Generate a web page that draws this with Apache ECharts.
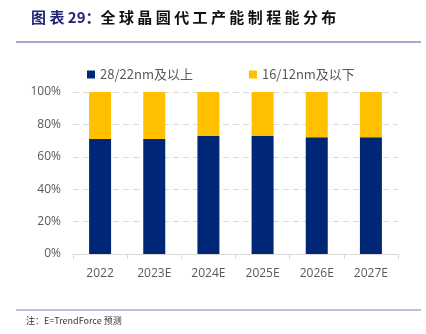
<!DOCTYPE html>
<html><head><meta charset="utf-8">
<script src="https://cdn.jsdelivr.net/npm/echarts@6/dist/echarts.min.js"></script>
<style>html,body{margin:0;padding:0;background:#fff;}#c{width:426px;height:334px;}</style>
</head><body><div id="c"></div>
<script>
const categories = ['2022','2023E','2024E','2025E','2026E','2027E'];
const mature = [71, 71, 73, 73, 72, 72];
const advanced = [29, 29, 27, 27, 28, 28];
const seriesNames = ['28/22nm及以上','16/12nm及以下'];
const yTicks = [0,20,40,60,80,100];

const chart = echarts.init(document.getElementById('c'), null, {renderer:'canvas'});
const cjk = '"Noto Sans CJK SC", sans-serif';
const spaced = s => s.split('').join(' ');
chart.setOption({
  animation:false,
  title:{
    text:'{a|' + spaced('图表') + ' 29：}{b|' + spaced('全球晶圆代工产能制程能分布') + '}',
    left:26, top:5,
    textStyle:{rich:{
      a:{fontSize:15,fontWeight:'bold',color:'#24247A',fontFamily:cjk},
      b:{fontSize:15,fontWeight:'bold',color:'#111',fontFamily:cjk}
    }}
  },
  graphic:[
    {type:'line',shape:{x1:16,y1:42,x2:421,y2:42},style:{stroke:'#ABA6D0',lineWidth:2}},
    {type:'line',shape:{x1:16,y1:310,x2:421,y2:310},style:{stroke:'#ABA6D0',lineWidth:1.5}},
    {type:'text',left:26,top:316,style:{text:'注：E=TrendForce 预测',font:'9px "Noto Sans CJK SC", sans-serif',fill:'#333'}}
  ],
  legend:{
    top:63, left:82, itemWidth:8, itemHeight:8, itemGap:56, icon:'rect',
    textStyle:{fontSize:13,color:'#595959',fontFamily:cjk},
    data:seriesNames
  },
  grid:{left:73,right:28,top:92,bottom:80},
  xAxis:{
    type:'category', data:categories,
    axisLine:{lineStyle:{color:'#D9D9D9'}},
    axisTick:{show:true,length:5,lineStyle:{color:'#D9D9D9'}},
    axisLabel:{fontSize:12,color:'#595959',margin:14,fontFamily:'"Open Sans", sans-serif'}
  },
  yAxis:{
    type:'value', min:0, max:100, interval:20,
    axisLabel:{formatter:'{value}%',fontSize:12,color:'#595959',margin:12,fontFamily:'"Open Sans", sans-serif'},
    axisLine:{show:false}, axisTick:{show:false},
    splitLine:{lineStyle:{color:'#D9D9D9',type:[6,4]}}
  },
  series:[
    {name:seriesNames[0],type:'bar',stack:'s',data:mature,barWidth:22,itemStyle:{color:'#002776'}},
    {name:seriesNames[1],type:'bar',stack:'s',data:advanced,barWidth:22,itemStyle:{color:'#FFC000'}}
  ]
});
</script></body></html>
